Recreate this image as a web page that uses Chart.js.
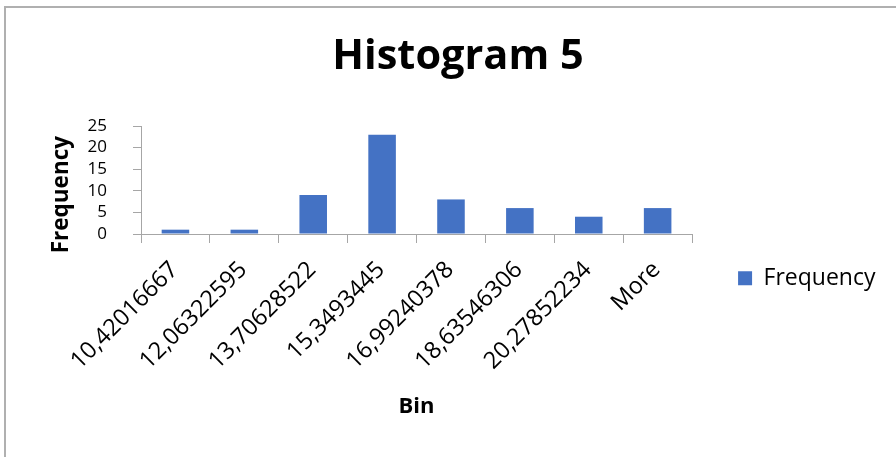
<!DOCTYPE html>
<html><head><meta charset="utf-8">
<script src="https://cdn.jsdelivr.net/npm/chart.js@4/dist/chart.umd.min.js"></script>
<style>
html,body{margin:0;padding:0;background:#fff;}
#wrap{position:relative;width:896px;height:457px;overflow:hidden;background:#fff;}
#frame{position:absolute;left:4px;top:6px;width:900px;height:460px;border-top:2px solid #b0b0b0;border-left:2px solid #b0b0b0;pointer-events:none;}
canvas{position:absolute;left:0;top:0;}
</style></head><body>
<div id="wrap"><canvas id="c" width="896" height="457"></canvas><div id="frame"></div></div>
<script>
const categories = ['10,42016667','12,06322595','13,70628522','15,3493445','16,99240378','18,63546306','20,27852234','More'];
const frequency = [1, 1, 9, 23, 8, 6, 4, 6];
const yTicks = [0, 5, 10, 15, 20, 25];
const seriesName = 'Frequency';
const chartTitle = 'Histogram 5';
const xTitle = 'Bin';
const yTitle = 'Frequency';

const FONT = "'Open Sans', sans-serif";
const AXIS = '#a6a6a6';
Chart.defaults.color = '#000';
Chart.defaults.font.family = FONT;

new Chart(document.getElementById('c'), {
  type: 'bar',
  data: {
    labels: categories,
    datasets: [{
      label: seriesName,
      data: frequency,
      backgroundColor: '#4472C4',
      borderWidth: 0,
      barPercentage: 0.4,
      categoryPercentage: 1.0
    }]
  },
  options: {
    responsive: false,
    animation: false,
    devicePixelRatio: 1,
    layout: { padding: { left: 30.5, right: 10.5, top: 0, bottom: 0 } },
    plugins: {
      title: {
        display: true,
        text: chartTitle,
        color: '#000',
        font: { family: FONT, size: 41.5, weight: 'bold' },
        padding: { top: 32, bottom: 44.2 }
      },
      legend: {
        display: true,
        position: 'right',
        align: 'center',
        title: { display: true, text: ' ', font: { size: 12 }, padding: { top: 85, bottom: 0 } },
        labels: {
          boxWidth: 14,
          boxHeight: 14,
          padding: 46,
          color: '#000',
          font: { family: FONT, size: 23 }
        }
      },
      tooltip: { enabled: false }
    },
    scales: {
      x: {
        grid: { display: true, drawOnChartArea: false, drawTicks: true, tickLength: 9, color: AXIS, offset: true },
        border: { display: true, color: AXIS, width: 1 },
        ticks: {
          autoSkip: false,
          minRotation: 45,
          maxRotation: 45,
          padding: 13,
          labelOffset: -1,
          color: '#000',
          font: { family: FONT, size: 23.5 }
        },
        title: {
          display: true,
          text: xTitle,
          color: '#000',
          font: { family: FONT, size: 22, weight: 'bold' },
          padding: { top: 0, bottom: 37 }
        },
        afterFit: (s) => { s.height = 223; }
      },
      y: {
        min: yTicks[0],
        max: yTicks[yTicks.length - 1],
        grid: { display: true, drawOnChartArea: false, drawTicks: true, tickLength: 8, color: AXIS },
        border: { display: true, color: AXIS, width: 1 },
        ticks: {
          stepSize: yTicks[1] - yTicks[0],
          autoSkip: false,
          padding: 26,
          color: '#000',
          font: { family: FONT, size: 17, lineHeight: 1.0 }
        },
        title: {
          display: true,
          text: yTitle + '\u00a0\u00a0\u00a0\u00a0\u00a0',
          color: '#000',
          font: { family: FONT, size: 22.5, weight: 'bold' },
          padding: { top: 18, bottom: 0 }
        },
        afterFit: (s) => { s.width = 110.5; }
      }
    }
  }
});
</script>
</body></html>
